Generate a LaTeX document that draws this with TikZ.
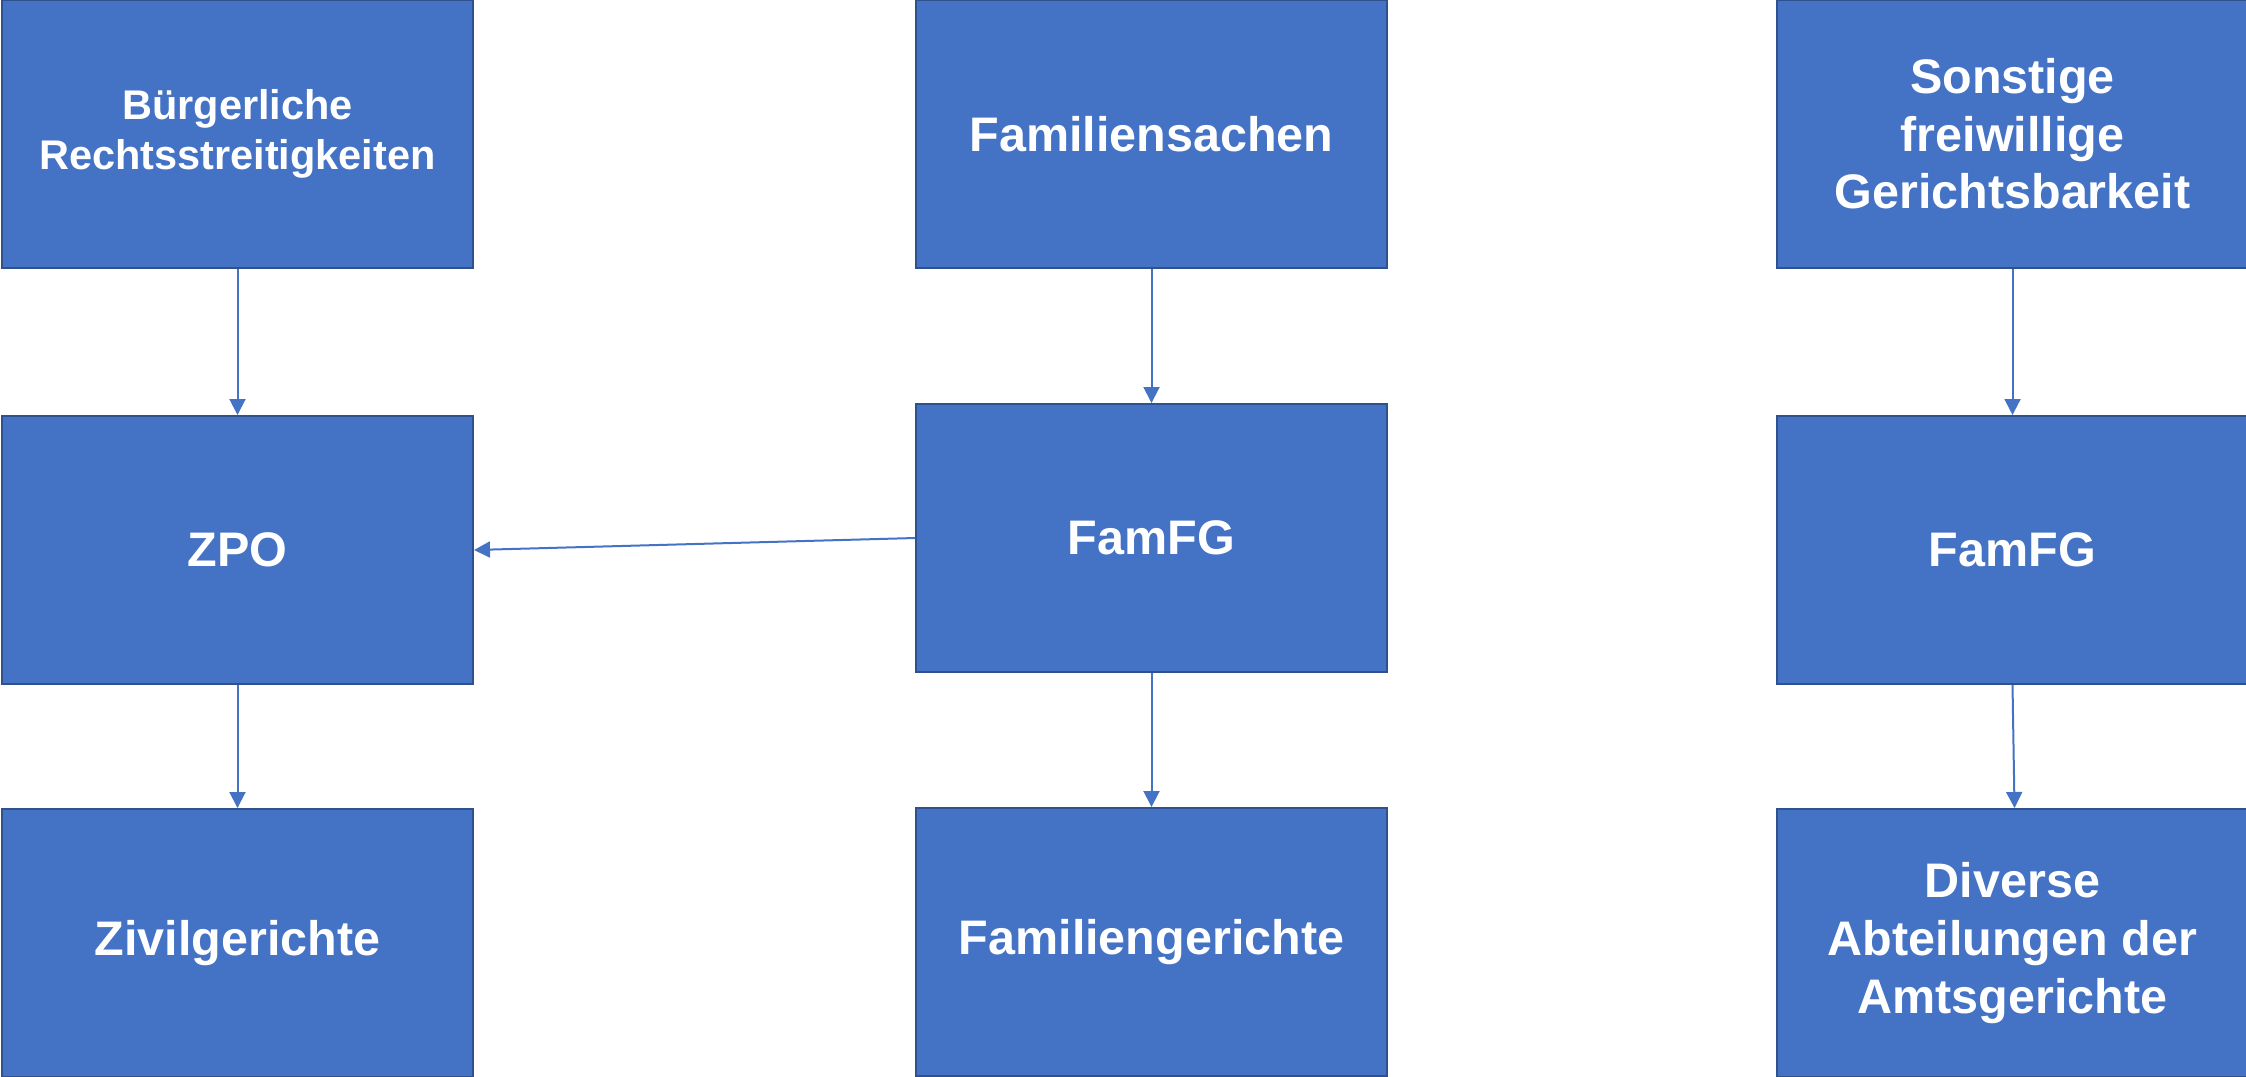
\documentclass[tikz,border=0pt]{standalone}
\usepackage{fontspec}
\setmainfont{Liberation Sans}
\usetikzlibrary{positioning,arrows.meta}
\definecolor{cFill}{HTML}{4472C4}
\definecolor{cLine}{HTML}{2F528F}
\tikzset{mybox/.style={
  shape=rectangle,
  draw=cLine,
  fill=cFill,
  line width=0.02cm,
  minimum width=4.71cm,
  minimum height=2.68cm,
  inner sep=2pt,
  align=center,
  text=white,
  font=\bfseries\fontsize{13.8pt}{16.4pt}\selectfont,
  }
}
\tikzset{myarrow/.style={
  draw=cFill,
  line width=0.02cm,
  -{Triangle[length=0.16cm,width=0.16cm]},
  }
}

\begin{document}
\begin{tikzpicture}[]
        \useasboundingbox (0,0) rectangle (22.46,-10.76);

        \node [mybox, font=\bfseries\fontsize{11.8pt}{14.4pt}\selectfont] (b1) at (2.375,-1.34) {B\"urgerliche\\Rechtsstreitigkeiten};
        \node [mybox, below =1.46cm of b1] (z1) {ZPO};
        \node [mybox, below =1.23cm of z1] (g1) {Zivilgerichte};

        \node [mybox, right =4.41cm of b1] (f2) {Familiensachen};
        \node [mybox, below =1.34cm of f2] (fg2) {FamFG};
        \node [mybox, below =1.34cm of fg2] (g2) {Familiengerichte};

        \node [mybox, right =3.88cm of f2] (s3) {Sonstige\\freiwillige\\Gerichtsbarkeit};
        \node [mybox, below =1.46cm of s3] (fg3) {FamFG};
        \node [mybox, below =1.23cm of fg3] (d3) {Diverse\\Abteilungen der\\Amtsgerichte};

        \draw [myarrow] (b1.south) -- (z1.north);
        \draw [myarrow] (z1.south) -- (g1.north);

        \draw [myarrow] (f2.south) -- (fg2.north);
        \draw [myarrow] (fg2.south) -- (g2.north);
        \draw [myarrow] (fg2.west) -- (z1.east);

        \draw [myarrow] (s3.south) -- (fg3.north);
        \draw [myarrow] (fg3.south) -- ([xshift=0.02cm]d3.north);
\end{tikzpicture}
\end{document}
